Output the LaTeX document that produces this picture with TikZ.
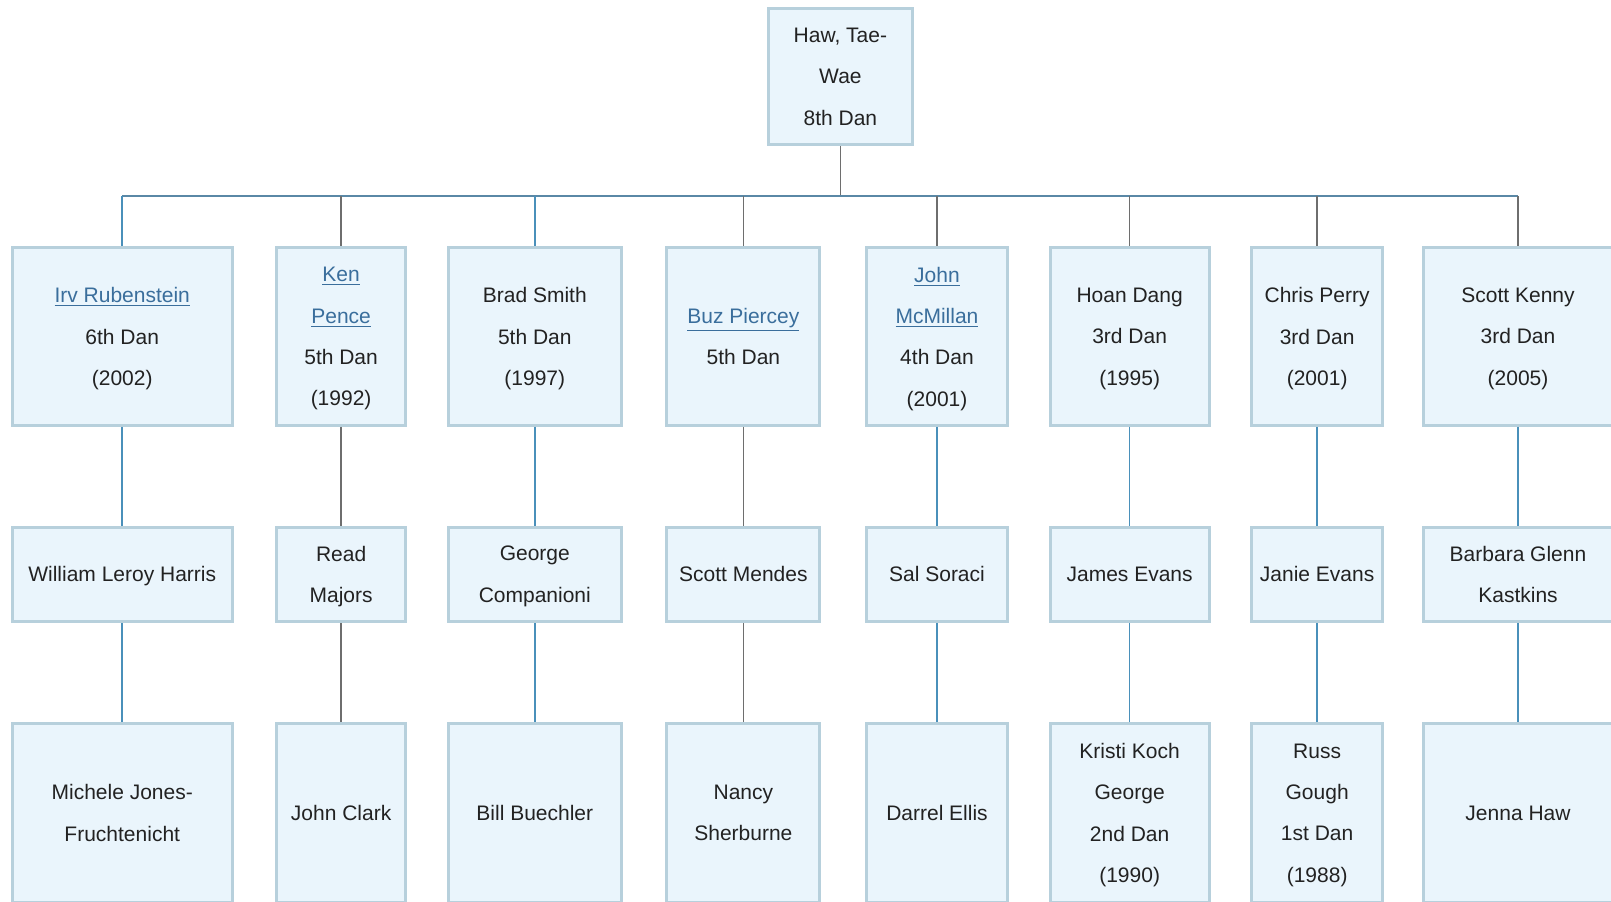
\documentclass[tikz,border=0pt]{standalone}
\usepackage{fontspec}
\setmainfont{Liberation Sans}
\definecolor{boxfill}{HTML}{EAF5FC}
\definecolor{boxline}{HTML}{B7D0DC}
\definecolor{blueline}{HTML}{4A90BA}
\definecolor{greyline}{HTML}{6E6E6E}
\definecolor{busline}{HTML}{5A88A6}
\definecolor{txt}{HTML}{222222}
\definecolor{linkc}{HTML}{3A6E9C}
\newcommand{\lnk}[1]{\textcolor{linkc}{\underline{#1}}}
\begin{document}
\begin{tikzpicture}[x=0.5pt,y=-0.5pt,
  person/.style={draw=boxline,line width=1.5pt,fill=boxfill,inner sep=0pt,
    align=center,text=txt,font=\fontsize{10.5}{20.7}\selectfont,
    text depth=-0.4pt},
  lvroot/.style={person,minimum height=68.35pt,minimum width=71.9pt},
  lvA/.style={person,minimum height=88.85pt},
  lvB/.style={person,minimum height=47.3pt},
  lvC/.style={person,minimum height=89.7pt},
  bl/.style={draw=blueline,line width=0.8pt},
  gl/.style={draw=greyline,line width=0.8pt},
  bus/.style={draw=busline,line width=0.8pt}]
\useasboundingbox (0,0) rectangle (1611,901);
\clip (0,0) rectangle (1611,901);
\fill[white] (0,0) rectangle (1611,901);

% root
\node[lvroot] (root) at (840.4,76.5) {Haw, Tae-\\Wae\\8th Dan};

% level 1
\node[lvA,minimum width=109.95pt] (a1) at (122.25,336.5) {\lnk{Irv Rubenstein}\\6th Dan\\(2002)};
\node[lvA,minimum width=64.7pt]   (a2) at (341.1,336.5) {\lnk{Ken}\\\lnk{Pence}\\5th Dan\\(1992)};
\node[lvA,minimum width=86.8pt]   (a3) at (534.8,336.5) {Brad Smith\\5th Dan\\(1997)};
\node[lvA,minimum width=76.55pt]  (a4) at (743.35,336.5) {\lnk{Buz Piercey}\\5th Dan};
\node[lvA,minimum width=70.9pt]   (a5) at (937,336.5) {\lnk{John}\\\lnk{McMillan}\\4th Dan\\(2001)};
\node[lvA,minimum width=79.65pt]  (a6) at (1129.65,336.5) {Hoan Dang\\3rd Dan\\(1995)};
\node[lvA,minimum width=65.75pt]  (a7) at (1317.15,336.5) {Chris Perry\\3rd Dan\\(2001)};
\node[lvA,minimum width=95pt]     (a8) at (1518,336.5) {Scott Kenny\\3rd Dan\\(2005)};

% level 2
\node[lvB,minimum width=109.95pt] (b1) at (122.25,574.3) {William Leroy Harris};
\node[lvB,minimum width=64.7pt]   (b2) at (341.1,574.3) {Read\\Majors};
\node[lvB,minimum width=86.8pt]   (b3) at (534.8,574.3) {George\\Companioni};
\node[lvB,minimum width=76.55pt]  (b4) at (743.35,574.3) {Scott Mendes};
\node[lvB,minimum width=70.9pt]   (b5) at (937,574.3) {Sal Soraci};
\node[lvB,minimum width=79.65pt]  (b6) at (1129.65,574.3) {James Evans};
\node[lvB,minimum width=65.75pt]  (b7) at (1317.15,574.3) {Janie Evans};
\node[lvB,minimum width=95pt]     (b8) at (1518,574.3) {Barbara Glenn\\Kastkins};

% level 3
\node[lvC,minimum width=109.95pt] (c1) at (122.25,813) {Michele Jones-\\Fruchtenicht};
\node[lvC,minimum width=64.7pt]   (c2) at (341.1,813) {John Clark};
\node[lvC,minimum width=86.8pt]   (c3) at (534.8,813) {Bill Buechler};
\node[lvC,minimum width=76.55pt]  (c4) at (743.35,813) {Nancy\\Sherburne};
\node[lvC,minimum width=70.9pt]   (c5) at (937,813) {Darrel Ellis};
\node[lvC,minimum width=79.65pt]  (c6) at (1129.65,813) {Kristi Koch\\George\\2nd Dan\\(1990)};
\node[lvC,minimum width=65.75pt]  (c7) at (1317.15,813) {Russ\\Gough\\1st Dan\\(1988)};
\node[lvC,minimum width=95pt]     (c8) at (1518,813) {Jenna Haw};

% bus
\coordinate (bus) at (840.4,196);
\draw[gl] (root.south) -- (bus);
\draw[bus] (bus -| a1.north) -- (bus -| a8.north);
\draw[bl] (bus -| a1.north) -- (a1.north);
\draw[gl] (bus -| a2.north) -- (a2.north);
\draw[bl] (bus -| a3.north) -- (a3.north);
\draw[gl] (bus -| a4.north) -- (a4.north);
\draw[gl] (bus -| a5.north) -- (a5.north);
\draw[gl] (bus -| a6.north) -- (a6.north);
\draw[gl] (bus -| a7.north) -- (a7.north);
\draw[gl] (bus -| a8.north) -- (a8.north);

% level 1 -> 2 -> 3
\draw[bl] (a1.south) -- (b1.north); \draw[bl] (b1.south) -- (c1.north);
\draw[gl] (a2.south) -- (b2.north); \draw[gl] (b2.south) -- (c2.north);
\draw[bl] (a3.south) -- (b3.north); \draw[bl] (b3.south) -- (c3.north);
\draw[gl] (a4.south) -- (b4.north); \draw[gl] (b4.south) -- (c4.north);
\draw[bl] (a5.south) -- (b5.north); \draw[bl] (b5.south) -- (c5.north);
\draw[bl] (a6.south) -- (b6.north); \draw[bl] (b6.south) -- (c6.north);
\draw[bl] (a7.south) -- (b7.north); \draw[bl] (b7.south) -- (c7.north);
\draw[bl] (a8.south) -- (b8.north); \draw[bl] (b8.south) -- (c8.north);
\end{tikzpicture}
\end{document}
